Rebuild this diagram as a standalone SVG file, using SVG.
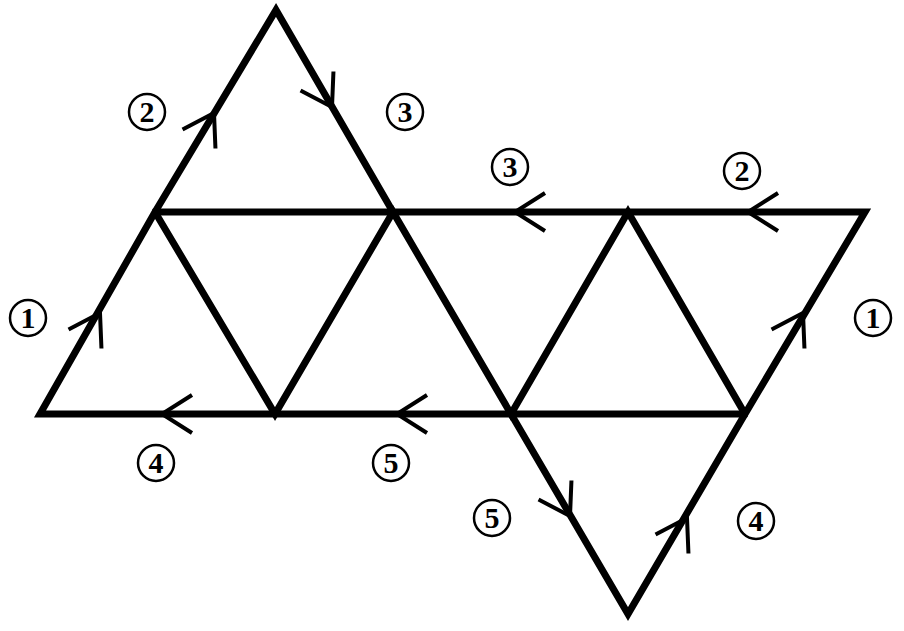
<svg xmlns="http://www.w3.org/2000/svg" width="904" height="631" viewBox="0 0 904 631">
<style>
.e{stroke:#000;stroke-width:7;fill:none;stroke-linejoin:miter}
.c{stroke:#000;stroke-width:4;fill:none}
.k{fill:#fff;stroke:#000;stroke-width:2.5}
</style>
<defs><path id="chev" d="M30,-19 L0,0 L30,19"/></defs>
<rect width="904" height="631" fill="#fff"/>
<g id="edges">
<path class="e" d="M155,212 L276,10 L393,212"/>
<path class="e" d="M155,212 H865 L745,414 H40 Z"/>
<path class="e" d="M155,212 L275,414 L393,212 L511,414 L628,212 L745,414"/>
<path class="e" d="M511,414 L628,614 L745,414"/>
</g>
<g id="connectors" class="c">
<use href="#chev" transform="translate(100,313) rotate(120)"/>
<use href="#chev" transform="translate(214,113) rotate(120)"/>
<use href="#chev" transform="translate(332,107) rotate(-120)"/>
<use href="#chev" transform="translate(515,212)"/>
<use href="#chev" transform="translate(748,212)"/>
<use href="#chev" transform="translate(803,313) rotate(120)"/>
<use href="#chev" transform="translate(162,414)"/>
<use href="#chev" transform="translate(397,414)"/>
<use href="#chev" transform="translate(570,516) rotate(-120)"/>
<use href="#chev" transform="translate(687,518) rotate(120)"/>
</g>
<g id="labels" font-family="Liberation Serif, Times New Roman, serif" font-weight="bold" font-size="30" text-anchor="middle">
<g id="n2a"><circle class="k" cx="147" cy="112" r="18"/><text x="147" y="122">2</text></g>
<g id="n3a"><circle class="k" cx="405" cy="112" r="18"/><text x="405" y="122">3</text></g>
<g id="n3b"><circle class="k" cx="510" cy="167" r="18"/><text x="510" y="177">3</text></g>
<g id="n2b"><circle class="k" cx="742" cy="171" r="18"/><text x="742" y="181">2</text></g>
<g id="n1a"><circle class="k" cx="28" cy="318" r="18"/><text x="28" y="328">1</text></g>
<g id="n1b"><circle class="k" cx="873" cy="318" r="18"/><text x="873" y="328">1</text></g>
<g id="n4a"><circle class="k" cx="156" cy="463" r="18"/><text x="156" y="473">4</text></g>
<g id="n5a"><circle class="k" cx="391" cy="463" r="18"/><text x="391" y="473">5</text></g>
<g id="n5b"><circle class="k" cx="492" cy="518" r="18"/><text x="492" y="528">5</text></g>
<g id="n4b"><circle class="k" cx="756" cy="521" r="18"/><text x="756" y="531">4</text></g>
</g>
</svg>
